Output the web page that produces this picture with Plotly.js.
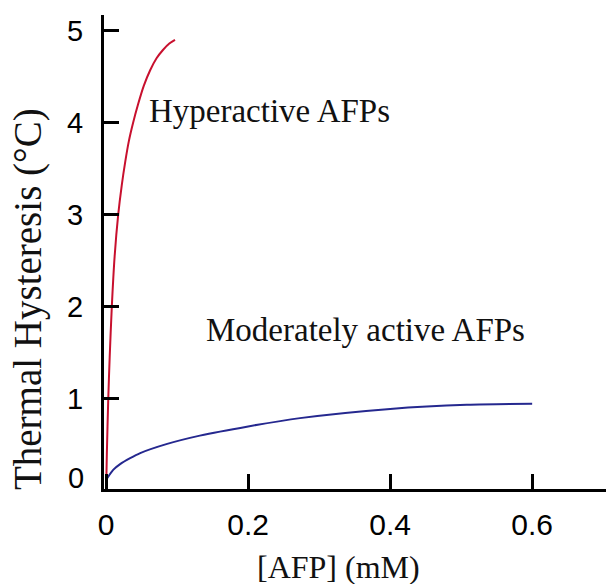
<!DOCTYPE html>
<html>
<head>
<meta charset="utf-8">
<script src="https://cdn.plot.ly/plotly-3.0.1.min.js"></script>
<style>html,body{margin:0;padding:0;background:#fff;}#chart{width:606px;height:584px;}</style>
</head>
<body>
<div id="chart"></div>
<script>
// Hyperactive AFPs (red)
const hyperX = [0, 0.001, 0.003, 0.005, 0.008, 0.012, 0.017, 0.022, 0.027, 0.032, 0.038, 0.045, 0.053, 0.062, 0.071, 0.080, 0.089, 0.097];
const hyperY = [0, 0.4, 1.0, 1.45, 2.0, 2.55, 3.0, 3.32, 3.58, 3.8, 4.0, 4.2, 4.4, 4.57, 4.7, 4.79, 4.86, 4.9];
// Moderately active AFPs (blue)
const modX = [0.0018, 0.0103, 0.0197, 0.0338, 0.048, 0.086, 0.132, 0.2, 0.273, 0.4, 0.508, 0.6];
const modY = [0.14, 0.23, 0.29, 0.355, 0.41, 0.51, 0.60, 0.70, 0.79, 0.89, 0.935, 0.945];
const xTicks = [0, 0.2, 0.4, 0.6];
const xTickText = ['0', '0.2', '0.4', '0.6'];
const yTicks = [1, 2, 3, 4, 5];
const yTickText = ['1', '2', '3', '4', '5'];
const yZeroLabel = '0';
const labelHyper = 'Hyperactive AFPs';
const labelMod = 'Moderately active AFPs';
const xTitle = '[AFP] (mM)';
const yTitle = 'Thermal Hysteresis (°C)';

const sans = 'Liberation Sans, Arial, sans-serif';
const serif = 'Liberation Serif, Times New Roman, serif';

const traces = [
  {x: hyperX, y: hyperY, mode: 'lines', line: {color: '#c8102e', width: 2, shape: 'spline', smoothing: 0.8}, name: labelHyper, hoverinfo: 'skip'},
  {x: modX, y: modY, mode: 'lines', line: {color: '#25288f', width: 2, shape: 'spline', smoothing: 0.8}, name: labelMod, hoverinfo: 'skip'}
];

const layout = {
  width: 606, height: 584,
  margin: {l: 104, r: 0, t: 15, b: 95, pad: 0},
  paper_bgcolor: '#fff', plot_bgcolor: '#fff',
  showlegend: false,
  xaxis: {
    range: [-0.003, 0.704], tickvals: xTicks, ticktext: xTickText,
    ticks: 'inside', ticklen: 15, tickwidth: 3, tickcolor: '#000',
    showline: true, linewidth: 3, linecolor: '#000', showgrid: false, zeroline: false,
    tickfont: {family: sans, size: 30, color: '#000'}, ticklabelstandoff: 7
  },
  yaxis: {
    range: [0.02, 5.17], tickvals: yTicks, ticktext: yTickText,
    ticks: 'inside', ticklen: 15, tickwidth: 3, tickcolor: '#000',
    showline: true, linewidth: 3, linecolor: '#000', showgrid: false, zeroline: false,
    tickfont: {family: sans, size: 29, color: '#000'}, ticklabelstandoff: 12
  },
  annotations: [
    {text: yZeroLabel, xref: 'paper', yref: 'paper', x: 0, y: 0, xanchor: 'right', yanchor: 'middle', xshift: -18, yshift: 11, showarrow: false, font: {family: sans, size: 29, color: '#000'}},
    {text: labelHyper, xref: 'x', yref: 'y', x: 0.058, y: 4.13, xanchor: 'left', yanchor: 'middle', showarrow: false, font: {family: serif, size: 33, color: '#111'}},
    {text: labelMod, xref: 'x', yref: 'y', x: 0.138, y: 1.75, xanchor: 'left', yanchor: 'middle', showarrow: false, font: {family: serif, size: 33, color: '#111'}},
    {text: xTitle, xref: 'paper', yref: 'paper', x: 0.468, y: 0, xanchor: 'center', yanchor: 'middle', yshift: -78, showarrow: false, font: {family: serif, size: 32, color: '#111'}},
    {text: yTitle, xref: 'paper', yref: 'paper', x: 0, y: 0.4008, xanchor: 'center', yanchor: 'middle', xshift: -76, textangle: -90, showarrow: false, font: {family: serif, size: 39, color: '#111'}}
  ]
};

Plotly.newPlot('chart', traces, layout, {displayModeBar: false, staticPlot: true});
</script>
</body>
</html>
